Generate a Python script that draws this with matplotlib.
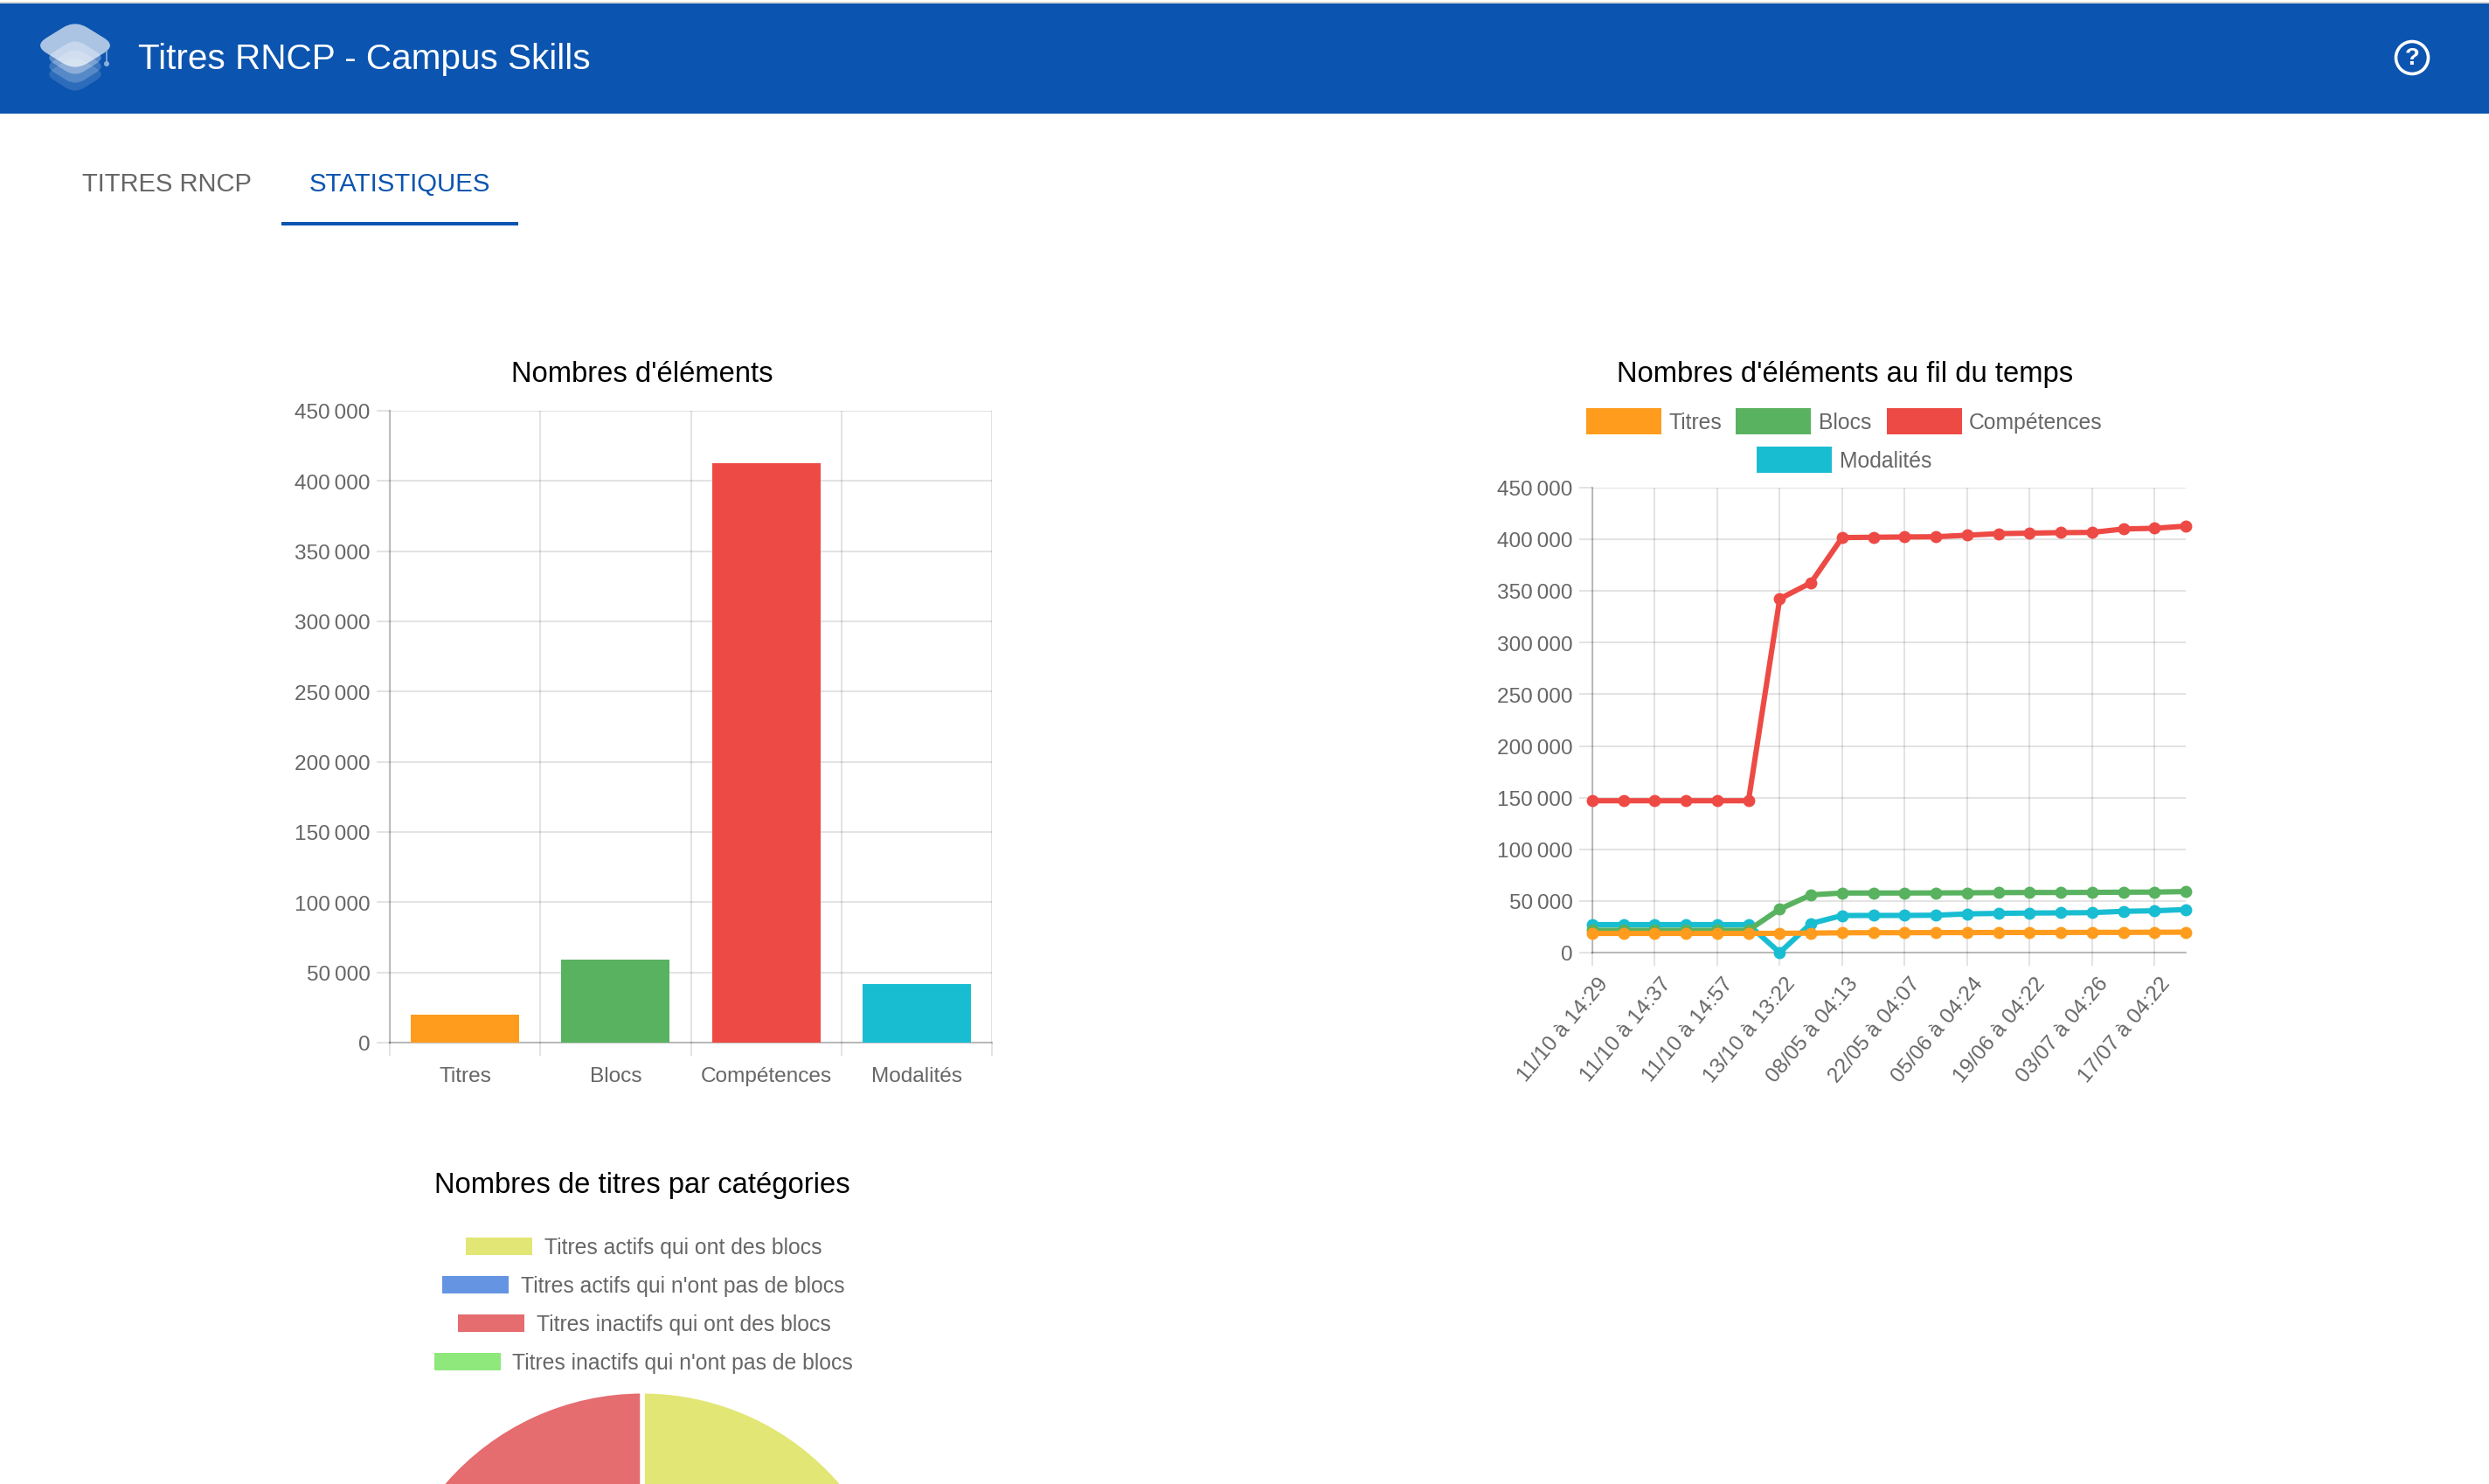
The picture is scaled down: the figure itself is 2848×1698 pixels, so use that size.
"""Campus Skills statistics page: element counts, their history and title categories."""

import matplotlib

matplotlib.use("Agg")

from matplotlib.transforms import ScaledTranslation
import matplotlib.pyplot as plt
from matplotlib.patches import Circle, PathPatch, Rectangle
from matplotlib.path import Path

plt.rcParams["font.family"] = ["Liberation Sans", "DejaVu Sans"]

W, H = 2848, 1698

BLUE = "#0B54AF"
GREY = "#666666"
AXIS = (0, 0, 0, 0.22)

SERIES = ["Titres", "Blocs", "Compétences", "Modalités"]
COLORS = ["#FF9C1E", "#59B25F", "#EE4A45", "#19BDD2"]
TOTALS = [19800, 59100, 412800, 41650]
Y_TICKS = [0, 50000, 100000, 150000, 200000, 250000, 300000, 350000, 400000, 450000]

DATE_LABELS = [
    "11/10 à 14:29", "11/10 à 14:37", "11/10 à 14:57", "13/10 à 13:22", "08/05 à 04:13",
    "22/05 à 04:07", "05/06 à 04:24", "19/06 à 04:22", "03/07 à 04:26", "17/07 à 04:22",
]
TITRES = [18600, 18600, 18600, 18600, 18600, 18600, 18700, 18900, 19200, 19300,
          19300, 19400, 19400, 19500, 19500, 19500, 19600, 19600, 19700, 19800]
BLOCS = [21700, 21700, 21700, 21700, 21700, 21700, 42100, 55900, 57700, 57700,
         57700, 57800, 57900, 58100, 58200, 58200, 58300, 58500, 58600, 59100]
COMPETENCES = [147000, 147000, 147000, 147000, 147000, 147000, 342400, 358000, 401700, 402000,
               402300, 402500, 404000, 405500, 406000, 406500, 406700, 410000, 410700, 412800]
MODALITES = [27100, 27100, 27100, 27100, 27100, 27100, 0, 28200, 35900, 36000,
             36000, 36200, 37500, 38000, 38300, 38500, 38700, 40000, 40500, 41700]

PIE_LABELS = [
    "Titres actifs qui ont des blocs",
    "Titres actifs qui n'ont pas de blocs",
    "Titres inactifs qui ont des blocs",
    "Titres inactifs qui n'ont pas de blocs",
]
PIE_COLORS = ["#E2E674", "#6595E2", "#E56C6F", "#8EE87B"]
PIE_VALUES = [8000, 1000, 10800, 0]


def px_axes(fig, left, top, right, bottom):
    """Axes placed with page pixels, origin in the top left corner."""
    return fig.add_axes([left / W, 1 - bottom / H, (right - left) / W, (bottom - top) / H])


def thin_number(value):
    return f"{value:,}".replace(",", "\u2009")


def rounded_diamond(cx, cy, hw, hh, t=0.3):
    """Path of a diamond whose corners are rounded off with quadratic curves."""
    corners = [(cx, cy - hh), (cx + hw, cy), (cx, cy + hh), (cx - hw, cy)]
    verts, codes = [], []
    for i, (x, y) in enumerate(corners):
        px, py = corners[i - 1]
        nx, ny = corners[(i + 1) % 4]
        verts += [(x + (px - x) * t, y + (py - y) * t), (x, y), (x + (nx - x) * t, y + (ny - y) * t)]
        codes += [Path.LINETO if i else Path.MOVETO, Path.CURVE3, Path.CURVE3]
    verts.append(verts[0])
    codes.append(Path.CLOSEPOLY)
    return Path(verts, codes)


def draw_page(fig):
    page = fig.add_axes([0, 0, 1, 1], zorder=5)
    page.set_xlim(0, W)
    page.set_ylim(H, 0)
    page.axis("off")

    page.add_patch(Rectangle((0, 2), W, 2, fc="#D8D8D8", ec="none"))
    page.add_patch(Rectangle((0, 4), W, 126, fc=BLUE, ec="none"))

    for cy, hw, hh, alpha in [(85, 35, 22, 0.14), (76, 35, 22, 0.2), (66, 35, 22, 0.32)]:
        page.add_patch(PathPatch(rounded_diamond(86, cy, hw, hh), fc=(1, 1, 1, alpha), ec="none"))
    page.add_patch(PathPatch(rounded_diamond(86, 52, 47, 29), fc=(1, 1, 1, 0.66), ec="none"))
    page.plot([122, 122], [58, 72], color="#8FAEDB", lw=1.2)
    page.add_patch(Circle((122, 73), 3, fc="#8FAEDB", ec="none"))

    page.text(158, 79, "Titres RNCP - Campus Skills", color="white", fontsize=29.2, va="baseline")
    page.add_patch(Circle((2760, 66), 18.5, fc="none", ec="white", lw=2.6))
    page.text(2760, 67, "?", color="white", fontsize=20, fontweight="bold", ha="center", va="center")

    page.text(94, 219, "TITRES RNCP", color=GREY, fontsize=21, va="baseline")
    page.text(354, 219, "STATISTIQUES", color=BLUE, fontsize=21.2, va="baseline")
    page.add_patch(Rectangle((322, 254), 271, 4, fc=BLUE, ec="none"))

    title = {"color": "black", "fontsize": 23.6, "ha": "center", "va": "center"}
    page.text(735, 428, "Nombres d'éléments", **title)
    page.text(2111, 428, "Nombres d'éléments au fil du temps", **title)
    page.text(735, 1356, "Nombres de titres par catégories", **title)

    # line chart legend, wrapped on two rows like the page does
    rects = [(1815, 467), (1986, 467), (2159, 467), (2010, 511)]
    text_x = [1909, 2081, 2253, 2105]
    for name, color, (x, y), tx in zip(SERIES, COLORS, rects, text_x):
        page.add_patch(Rectangle((x, y), 86, 30, fc=color, ec="none"))
        page.text(tx, y + 17, name, color=GREY, fontsize=17.8, va="center")

    # pie legend
    rect_x = [533, 506, 524, 497]
    label_x = [623, 596, 614, 586]
    rows = [1416, 1460, 1504, 1548]
    for name, color, x, tx, y in zip(PIE_LABELS, PIE_COLORS, rect_x, label_x, rows):
        page.add_patch(Rectangle((x, y), 76, 20, fc=color, ec="none"))
        page.text(tx, y + 12, name, color=GREY, fontsize=17.8, va="center")


def style_axes(ax):
    ax.set_ylim(0, 450000)
    ax.set_yticks(Y_TICKS)
    ax.set_yticklabels([thin_number(v) for v in Y_TICKS])
    ax.set_axisbelow(True)
    ax.grid(True, color="black", alpha=0.11, lw=1.5)
    ax.tick_params(axis="both", which="major", length=11, width=1.5, color=(0, 0, 0, 0.11),
                   labelcolor=GREY, labelsize=17.6, pad=5)
    for side in ["top", "right"]:
        ax.spines[side].set_visible(False)
    for side in ["left", "bottom"]:
        ax.spines[side].set_color(AXIS)
        ax.spines[side].set_linewidth(1.6)
    # page text sits a little lower than matplotlib's centring
    for label in ax.get_yticklabels():
        label.set_transform(label.get_transform() + ScaledTranslation(0, -0.7 / 100, ax.figure.dpi_scale_trans))


def draw_bars(fig):
    ax = px_axes(fig, 446, 470, 1135, 1193)
    positions = [0.5, 1.5, 2.5, 3.5]
    ax.bar(positions, TOTALS, width=0.72, color=COLORS, zorder=3)
    ax.set_xlim(0, 4)
    style_axes(ax)
    ax.set_xticks([0, 1, 2, 3, 4])
    ax.set_xticklabels([])
    ax.set_xticks(positions, minor=True)
    ax.set_xticklabels(SERIES, minor=True)
    ax.tick_params(axis="x", which="minor", length=0, labelcolor=GREY, labelsize=17.6, pad=20)


def draw_lines(fig):
    ax = px_axes(fig, 1822, 558, 2501, 1090)
    xs = list(range(len(TITRES)))
    # first dataset ends up on top, as in the page
    series = [TITRES, BLOCS, COMPETENCES, MODALITES]
    for i, values in enumerate(series):
        ax.plot(xs, values, color=COLORS[i], lw=4.4, marker="o", ms=10, mew=0,
                clip_on=False, zorder=6 - i)
    ax.set_xlim(0, 19)
    style_axes(ax)
    ax.set_xticks(xs[::2])
    ax.set_xticklabels(DATE_LABELS, rotation=50, ha="right", va="top", rotation_mode="anchor")
    ax.tick_params(axis="x", pad=7)
    for label in ax.get_xticklabels():
        label.set_transform(label.get_transform() + ScaledTranslation(6 / 100, 0, ax.figure.dpi_scale_trans))


def draw_pie(fig):
    radius = 300
    cx, cy = 735, 1592 + radius
    ax = px_axes(fig, cx - radius, cy - radius, cx + radius, cy + radius)
    ax.pie(PIE_VALUES, colors=PIE_COLORS, startangle=90, counterclock=False, radius=1,
           wedgeprops={"edgecolor": "white", "linewidth": 3.6})
    ax.set_xlim(-1, 1)
    ax.set_ylim(-1, 1)


def main():
    fig = plt.figure(figsize=(W / 100, H / 100), dpi=100, facecolor="white")
    draw_bars(fig)
    draw_lines(fig)
    draw_pie(fig)
    draw_page(fig)
    fig.savefig("out.png", dpi=100)
    plt.close(fig)


if __name__ == "__main__":
    main()
